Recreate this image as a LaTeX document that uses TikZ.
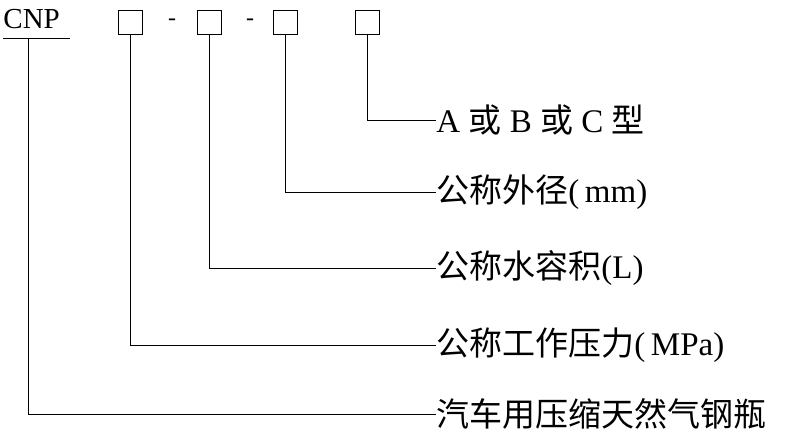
\documentclass[tikz,border=0pt]{standalone}
\usepackage{fontspec}
\setmainfont{Liberation Serif}
\newfontfamily\cjk{Noto Sans CJK SC}
\begin{document}
\begin{tikzpicture}[x=1pt,y=-1pt,line width=0.9pt,
  lbl/.style={anchor=west,inner sep=0pt,font=\fontsize{33}{36}\selectfont},
  bx/.style={draw,minimum width=24pt,minimum height=24pt,inner sep=0pt}]
\useasboundingbox (0,0) rectangle (806,436);
\node[anchor=west,inner sep=0pt,font=\fontsize{29}{32}\selectfont] (cnp) at (3,19) {CNP};
\draw (3,38) -- (70,38);
\coordinate (c0) at (28,38);
\node[bx] (b1) at (130,22) {};
\node[font=\fontsize{24}{28}\selectfont] (d1) at (172,22) {-};
\node[bx] (b2) at (209,22) {};
\node[font=\fontsize{24}{28}\selectfont] (d2) at (250,22) {-};
\node[bx] (b3) at (285,22) {};
\node[bx] (b4) at (367,22) {};
\node[lbl] (t4) at (436,120) {A {\cjk 或} B {\cjk 或} C {\cjk 型}};
\node[lbl] (t3) at (436,192) {{\cjk 公称外径}(\,mm)};
\node[lbl] (t2) at (436,268) {{\cjk 公称水容积}(L)};
\node[lbl] (t1) at (436,345) {{\cjk 公称工作压力}(\,MPa)};
\node[lbl] (t0) at (436,414) {\cjk 汽车用压缩天然气钢瓶};
\draw (b4.south) |- (t4.west);
\draw (b3.south) |- (t3.west);
\draw (b2.south) |- (t2.west);
\draw (b1.south) |- (t1.west);
\draw (c0) |- (t0.west);
\end{tikzpicture}
\end{document}
